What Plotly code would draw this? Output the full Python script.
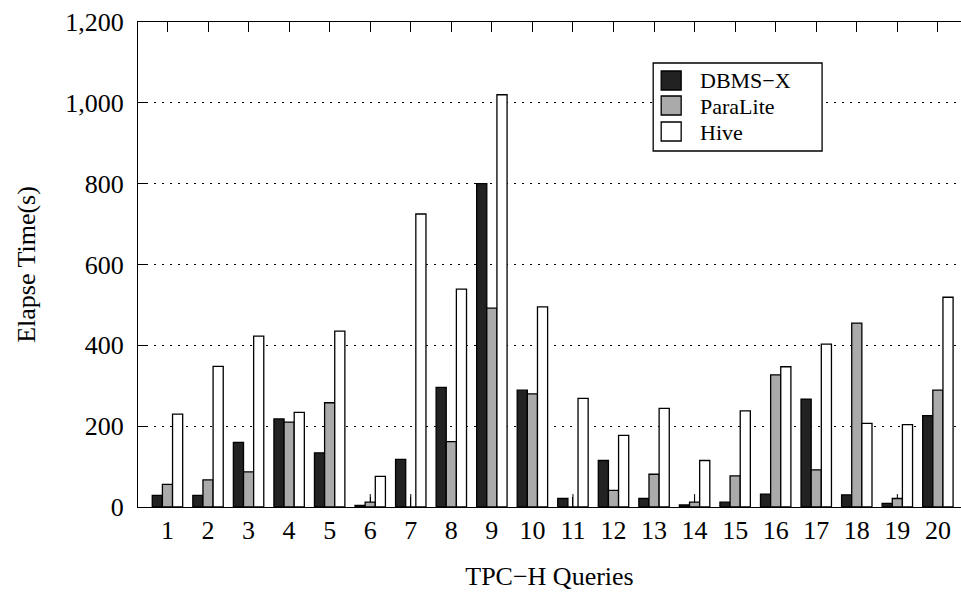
import plotly.graph_objects as go

queries = list(range(1, 21))
tick_labels = [str(q) for q in queries]
series_names = ["DBMS\u2212X", "ParaLite", "Hive"]
series_colors = ["#222222", "#aaaaaa", "white"]

dbms_x = [29, 29, 160, 218, 134, 4, 118, 296, 800, 289, 21, 115, 21, 5, 12, 32, 267, 30, 9, 226]
paralite = [56, 67, 87, 210, 258, 12, 0, 162, 492, 280, 0, 41, 81, 12, 77, 327, 92, 455, 21, 289]
hive = [230, 348, 423, 234, 435, 76, 725, 539, 1020, 495, 269, 177, 244, 115, 238, 347, 403, 207, 204, 519]
# upper error extent on ParaLite bars (0 = none)
paralite_err = [0, 0, 0, 0, 0, 20, 32, 0, 0, 0, 32, 0, 0, 20, 0, 0, 0, 0, 11, 0]

FONT = "Liberation Serif, Times New Roman, serif"
outline = dict(color="black", width=1.3)

fig = go.Figure()
fig.add_trace(go.Bar(x=queries, y=dbms_x, name=series_names[0],
                     marker=dict(color=series_colors[0], line=outline)))
fig.add_trace(go.Bar(x=queries, y=paralite, name=series_names[1],
                     marker=dict(color=series_colors[1], line=outline),
                     error_y=dict(type="data", array=paralite_err,
                                  arrayminus=[0] * 20, symmetric=False,
                                  color="black", thickness=1, width=0)))
fig.add_trace(go.Bar(x=queries, y=hive, name=series_names[2],
                     marker=dict(color=series_colors[2], line=outline)))

# plot area in pixels
L, R, T, B = 137.5, 961.0, 22.0, 507.0
def px(x):
    return (x - L) / (R - L)
def py(y):
    return (B - y) / (B - T)

# custom legend (compact rows like the reference)
shapes = [dict(type="rect", xref="paper", yref="paper",
               x0=px(653), x1=px(822), y0=py(151), y1=py(63),
               line=dict(color="black", width=1.3), fillcolor="white", layer="above")]
annotations = []
sq = [(71, 90), (96, 115), (122, 141)]
rows = [80, 106, 132]
for i, name in enumerate(series_names):
    shapes.append(dict(type="rect", xref="paper", yref="paper",
                       x0=px(661), x1=px(681), y0=py(sq[i][1]), y1=py(sq[i][0]),
                       line=dict(color="black", width=1.3),
                       fillcolor=series_colors[i], layer="above"))
    annotations.append(dict(xref="paper", yref="paper", x=px(699), y=py(rows[i]),
                            xanchor="left", yanchor="middle", showarrow=False,
                            borderpad=0,
                            text=name, font=dict(family=FONT, size=22, color="black")))

fig.update_layout(
    width=961, height=593,
    margin=dict(l=L, r=961 - R, t=T, b=593 - B),
    paper_bgcolor="white", plot_bgcolor="white",
    barmode="group", bargap=0.25, bargroupgap=0,
    font=dict(family=FONT, size=26, color="black"),
    showlegend=False,
    shapes=shapes, annotations=annotations,
    xaxis=dict(range=[0.273, 20.57], tickmode="array", tickvals=queries,
               ticktext=tick_labels, ticks="inside", ticklen=10, tickwidth=1,
               tickcolor="black", showline=True, linecolor="black", linewidth=1.3,
               mirror="ticks", showgrid=False, zeroline=False,
               layer="below traces",
               title=dict(text="TPC\u2212H Queries", standoff=22,
                          font=dict(family=FONT, size=26))),
    yaxis=dict(range=[0, 1200], tickvals=[0, 200, 400, 600, 800, 1000, 1200],
               tickformat=",d", ticks="inside", ticklen=10, tickwidth=1,
               tickcolor="black", showline=True, linecolor="black", linewidth=1.3,
               mirror=False, showgrid=True, gridcolor="black", gridwidth=1,
               griddash="2px,6px", zeroline=False, ticklabelstandoff=8,
               title=dict(text="Elapse Time(s)", standoff=22,
                          font=dict(family=FONT, size=26))),
)

fig.write_html("out.html")
